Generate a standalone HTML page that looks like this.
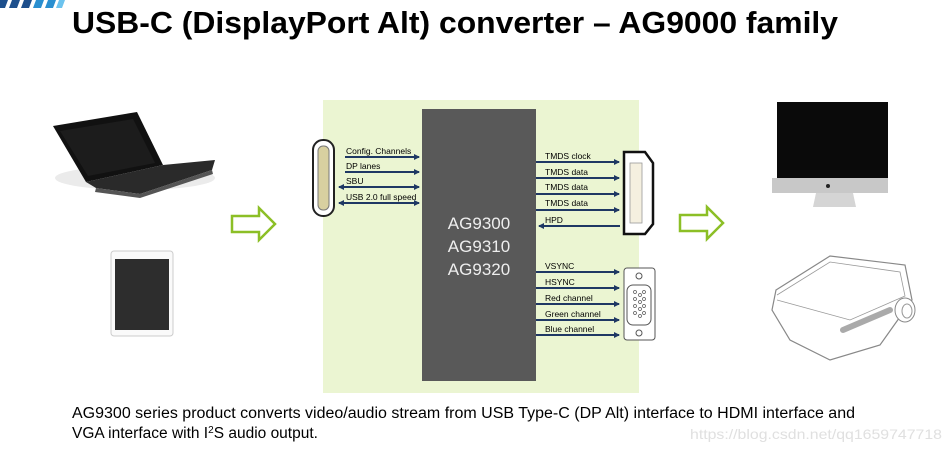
<!DOCTYPE html>
<html><head><meta charset="utf-8"><style>
html,body{margin:0;padding:0;background:#fff;}
svg{display:block;font-family:"Liberation Sans",sans-serif;}
</style></head><body>
<svg width="951" height="452" viewBox="0 0 951 452" xmlns="http://www.w3.org/2000/svg">
<defs>
<marker id="a" markerWidth="6" markerHeight="6" refX="5" refY="3" orient="auto" markerUnits="userSpaceOnUse"><path d="M0,0 L6,3 L0,6 z" fill="#1f3864"/></marker>
<marker id="b" markerWidth="6" markerHeight="6" refX="1" refY="3" orient="auto" markerUnits="userSpaceOnUse"><path d="M6,0 L0,3 L6,6 z" fill="#1f3864"/></marker>
</defs>
<g fill="#1d4f8c"><polygon points="0,0 8,0 5,8 0,8"/><polygon points="12,0 20,0 17,8 9,8"/><polygon points="24,0 32,0 29,8 21,8"/></g>
<g fill="#2a8fd0"><polygon points="36,0 44,0 41,8 33,8"/><polygon points="48,0 56,0 53,8 45,8"/></g>
<polygon points="59,0 65,0 62,8 56,8" fill="#6cc3ee"/>
<text x="72" y="33" font-size="31" font-weight="bold" fill="#000" textLength="766" lengthAdjust="spacingAndGlyphs">USB-C (DisplayPort Alt) converter – AG9000 family</text>
<rect x="323" y="100" width="316" height="293" fill="#ebf5d2"/>
<rect x="422" y="109" width="114" height="272" fill="#595959"/>
<g fill="#eee" font-size="17" text-anchor="middle"><text x="479" y="229">AG9300</text><text x="479" y="252">AG9310</text><text x="479" y="275">AG9320</text></g>
<rect x="313" y="140" width="21" height="76" rx="10" fill="#fff" stroke="#222" stroke-width="2"/>
<rect x="318" y="146" width="11" height="64" rx="5" fill="#d8d0a0" stroke="#777" stroke-width="1"/>
<g stroke="#1f3864" stroke-width="2" fill="none">
<line x1="345" y1="157" x2="419" y2="157" marker-end="url(#a)"/>
<line x1="345" y1="172" x2="419" y2="172" marker-end="url(#a)"/>
<line x1="339" y1="187" x2="419" y2="187" marker-end="url(#a)" marker-start="url(#b)"/>
<line x1="339" y1="203" x2="419" y2="203" marker-end="url(#a)" marker-start="url(#b)"/>
<line x1="536" y1="162" x2="619" y2="162" marker-end="url(#a)"/>
<line x1="536" y1="178" x2="619" y2="178" marker-end="url(#a)"/>
<line x1="536" y1="194" x2="619" y2="194" marker-end="url(#a)"/>
<line x1="536" y1="210" x2="619" y2="210" marker-end="url(#a)"/>
<line x1="539" y1="226" x2="620" y2="226" marker-start="url(#b)"/>
<line x1="536" y1="272" x2="619" y2="272" marker-end="url(#a)"/>
<line x1="536" y1="288" x2="619" y2="288" marker-end="url(#a)"/>
<line x1="536" y1="304" x2="619" y2="304" marker-end="url(#a)"/>
<line x1="536" y1="320" x2="619" y2="320" marker-end="url(#a)"/>
<line x1="536" y1="335" x2="619" y2="335" marker-end="url(#a)"/>
</g>
<g font-size="8.5" fill="#000">
<text x="346" y="154">Config. Channels</text><text x="346" y="169">DP lanes</text><text x="346" y="184">SBU</text><text x="346" y="200">USB 2.0 full speed</text>
<text x="545" y="159">TMDS clock</text><text x="545" y="175">TMDS data</text><text x="545" y="190">TMDS data</text><text x="545" y="206">TMDS data</text><text x="545" y="223">HPD</text>
<text x="545" y="269">VSYNC</text><text x="545" y="285">HSYNC</text><text x="545" y="301">Red channel</text><text x="545" y="317">Green channel</text><text x="545" y="332">Blue channel</text>
</g>
<path d="M624,152 L645,152 L653,163 L653,224 L645,234 L624,234 Z" fill="#fff" stroke="#111" stroke-width="2.5"/>
<rect x="630" y="163" width="12" height="60" fill="#f5f0e0" stroke="#999" stroke-width="0.8"/>
<rect x="624" y="268" width="31" height="72" rx="3" fill="#fff" stroke="#555" stroke-width="1"/>
<circle cx="639" cy="276" r="3" fill="none" stroke="#555"/><circle cx="639" cy="333" r="3" fill="none" stroke="#555"/>
<rect x="627" y="285" width="24" height="40" rx="6" fill="#fff" stroke="#555"/>
<g fill="none" stroke="#555" stroke-width="0.7"><circle cx="635" cy="292" r="1.5"/><circle cx="635" cy="299" r="1.5"/><circle cx="635" cy="306" r="1.5"/><circle cx="635" cy="313" r="1.5"/><circle cx="640" cy="295" r="1.5"/><circle cx="640" cy="302" r="1.5"/><circle cx="640" cy="309" r="1.5"/><circle cx="640" cy="316" r="1.5"/><circle cx="644" cy="292" r="1.5"/><circle cx="644" cy="299" r="1.5"/><circle cx="644" cy="306" r="1.5"/><circle cx="644" cy="313" r="1.5"/></g>
<polygon points="232,216 259,216 259,208 275,224 259,240 259,232 232,232" fill="#fff" stroke="#8cbf26" stroke-width="2.5"/>
<polygon points="680,215 707,215 707,207 723,223 707,239 707,231 680,231" fill="#fff" stroke="#8cbf26" stroke-width="2.5"/>
<ellipse cx="135" cy="178" rx="80" ry="12" fill="#ddd" opacity="0.6"/>
<polygon points="53,126 137,112 163,165 86,182" fill="#111"/>
<polygon points="60,131 133,119 155,163 88,176" fill="#1c1c1c"/>
<polygon points="86,182 163,165 215,160 212,170 140,194 96,188" fill="#2a2a2a"/>
<polygon points="96,188 140,194 212,170 213,174 140,198 95,192" fill="#555"/>
<rect x="111" y="251" width="62" height="85" rx="3" fill="#fafafa" stroke="#ccc"/>
<rect x="115" y="259" width="54" height="71" fill="#2d2d2d"/>
<rect x="777" y="102" width="111" height="77" fill="#0a0a0a"/>
<rect x="772" y="178" width="116" height="15" fill="#c8c8c8"/>
<circle cx="828" cy="186" r="2" fill="#222"/>
<polygon points="816,193 853,193 856,207 813,207" fill="#d5d5d5"/>
<path d="M776,290 L830,256 L905,265 L912,300 L880,345 L830,360 L790,340 L772,310 Z" fill="#fff" stroke="#888" stroke-width="1.2"/>
<path d="M777,295 L830,262 L900,272 L905,296 L850,320 L777,300" fill="none" stroke="#999" stroke-width="0.8"/>
<ellipse cx="905" cy="310" rx="10" ry="12" fill="#fff" stroke="#888"/>
<ellipse cx="907" cy="311" rx="5" ry="7" fill="none" stroke="#999"/>
<path d="M843,330 L890,310" stroke="#aaa" stroke-width="6" stroke-linecap="round"/>
<g font-size="15.5" fill="#000"><text x="72" y="418" textLength="783" lengthAdjust="spacingAndGlyphs">AG9300 series product converts video/audio stream from USB Type-C (DP Alt) interface to HDMI interface and</text>
<text x="72" y="438">VGA interface with I<tspan font-size="10" dy="-5">2</tspan><tspan dy="5">S audio output.</tspan></text></g>
<text x="690" y="439" font-size="14" fill="#e0e0e0" textLength="252" lengthAdjust="spacingAndGlyphs">https://blog.csdn.net/qq1659747718</text>
</svg>
</body></html>
